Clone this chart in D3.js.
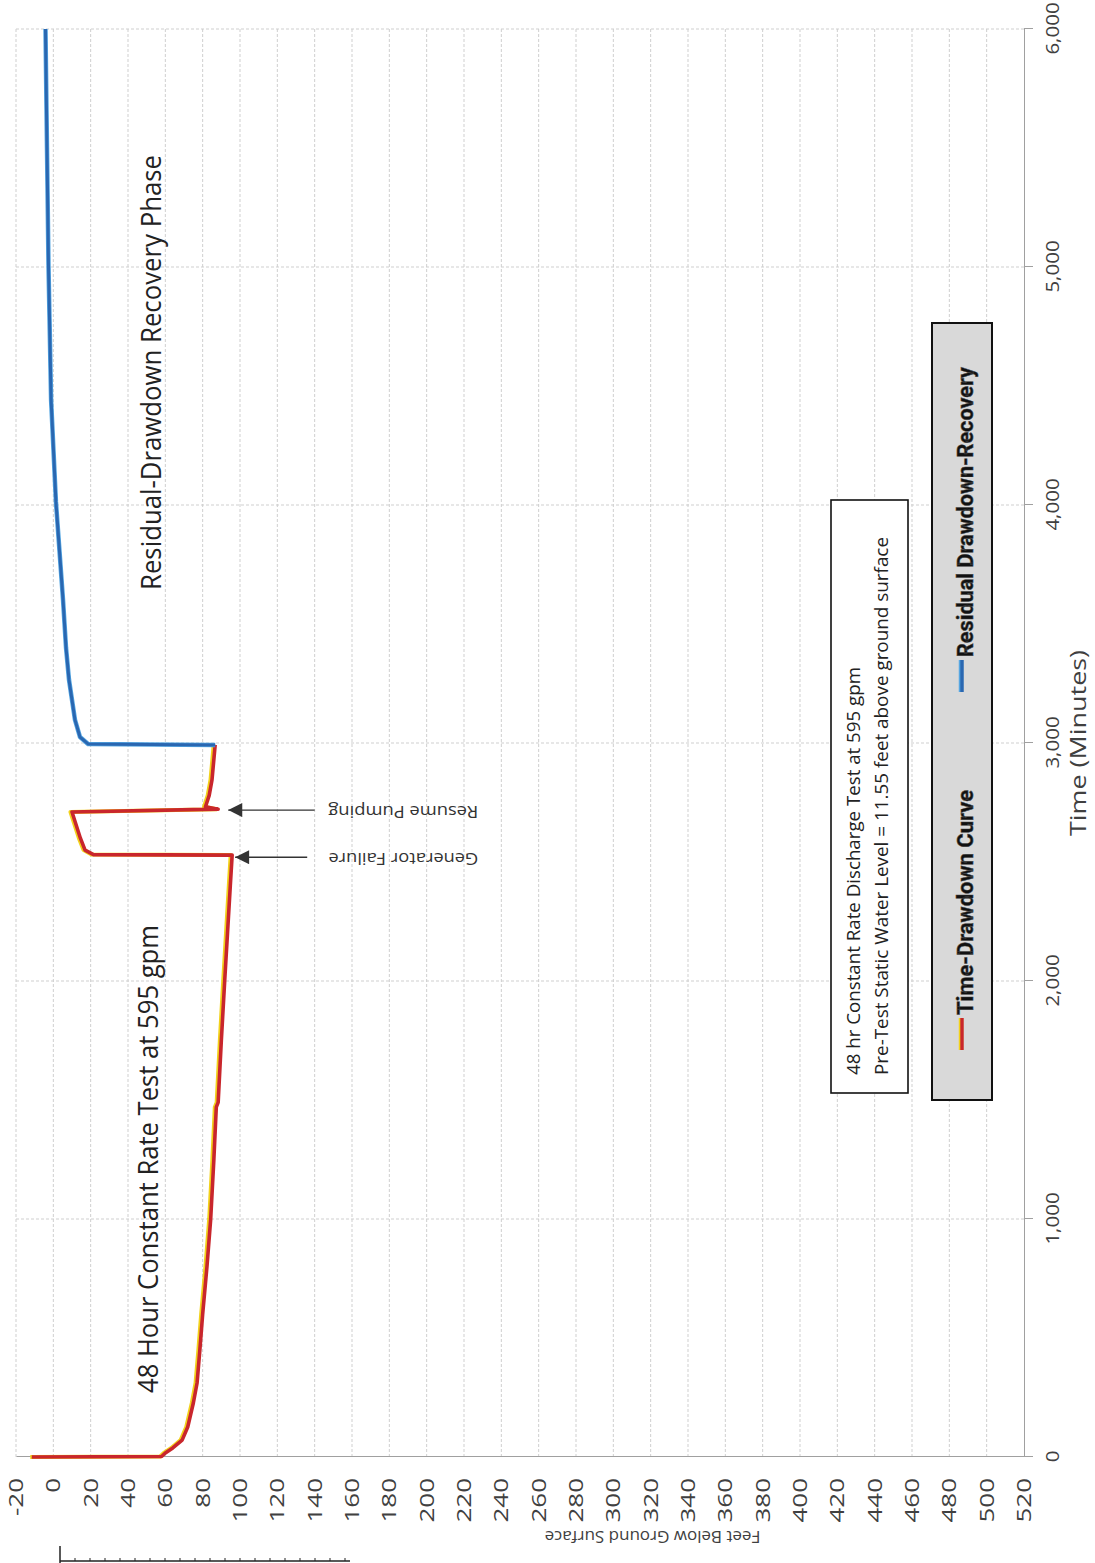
<!DOCTYPE html>
<html>
<head>
<meta charset="utf-8">
<script src="https://cdn.jsdelivr.net/npm/d3@7"></script>
<style>
  body { margin: 0; background: #fff; }
  svg { display: block; }
</style>
</head>
<body>
<svg id="chart" width="1095" height="1563"></svg>
<script>
// Axis ticks
const timeTicks = [0, 1000, 2000, 3000, 4000, 5000, 6000];
const depthTicks = [-20, 0, 20, 40, 60, 80, 100, 120, 140, 160, 180, 200, 220, 240, 260,
  280, 300, 320, 340, 360, 380, 400, 420, 440, 460, 480, 500, 520];

// Pumping phase: elapsed minutes and water level (feet below ground surface)
const drawdownMinutes = [0, 2, 17, 38, 71, 126, 227, 311, 450, 600, 800, 1000, 1250, 1470, 1490,
  1750, 2000, 2200, 2400, 2529, 2531, 2550, 2600, 2710, 2722, 2732, 2780, 2845, 2992];
const drawdownFeet = [-11.55, 58, 60, 64, 69, 72, 75, 77, 78.5, 80, 82.3, 84.3, 86, 87.3, 88.3,
  90, 91.8, 93.3, 94.8, 95.8, 21.5, 17, 14.5, 10, 88.3, 81.5, 83.5, 85, 86.7];

// Recovery phase after the pump was shut off
const recoveryMinutes = [2992, 2996, 3025, 3097, 3181, 3265, 3400, 3600, 4013, 4441, 5008, 5500, 6000];
const recoveryFeet = [86.7, 18.6, 14.3, 11.6, 10, 8.4, 6.8, 5.2, 1.4, -1.2, -2.6, -3.4, -4.2];

// Event callouts
const eventLabels = ["Generator Failure", "Resume Pumping"];
const eventMinutes = [2520, 2718];
const eventTipFeet = [97.4, 93.7];
const eventTailFeet = [136, 140];
const eventTextFeet = [227.7, 227.7];

const seriesNames = ["Time-Drawdown Curve", "Residual Drawdown-Recovery"];

const W = 1428, H = 1008;
const x = d3.scaleLinear().domain([0, 6000]).range([0, W]);
const y = d3.scaleLinear().domain([-20, 520]).range([0, H]);

const svg = d3.select("#chart");
const FONT = "'Open Sans', 'Noto Sans', sans-serif";

// The whole plot is laid out on its side: time runs up the page, depth runs across.
const g = svg.append("g").attr("transform", "translate(16,1457) rotate(-90)");

// Grid
const grid = g.append("g").attr("stroke", "#cfcfcf").attr("stroke-width", 1)
  .attr("stroke-dasharray", "3,2").attr("fill", "none");
grid.selectAll("line.t").data(timeTicks.slice(1)).join("line")
  .attr("x1", d => x(d)).attr("x2", d => x(d)).attr("y1", 0).attr("y2", H);
grid.selectAll("line.d").data(depthTicks.slice(0, -1)).join("line")
  .attr("x1", 0).attr("x2", W).attr("y1", d => y(d)).attr("y2", d => y(d));

// Time axis
const xAxis = g.append("g").attr("transform", `translate(0,${H})`)
  .call(d3.axisBottom(x).tickValues(timeTicks).tickSize(9).tickPadding(13)
    .tickFormat(d3.format(",")));
xAxis.select(".domain").attr("stroke", "#a0a0a0");
xAxis.selectAll(".tick line").attr("stroke", "#a0a0a0");
xAxis.selectAll(".tick text").attr("font-family", FONT).attr("font-size", 19).attr("fill", "#404040")
  .attr("transform", "scale(1.08,1)");

// Depth axis (labels drawn a little wide, as in the printed sheet)
const stretch = 1.3;
const yAxis = g.append("g")
  .call(d3.axisLeft(y).tickValues(depthTicks).tickSize(0).tickPadding(21)
    .tickFormat(d => String(d)));
yAxis.select(".domain").attr("stroke", "#a0a0a0");
yAxis.selectAll(".tick text").attr("font-family", FONT).attr("font-size", 20).attr("fill", "#404040")
  .attr("x", -21 / stretch).attr("transform", `scale(${stretch},1)`);

// Axis titles
g.append("text").attr("x", x(3000)).attr("y", H + 62).attr("text-anchor", "middle")
  .attr("font-family", FONT).attr("font-size", 22).attr("fill", "#404040")
  .attr("textLength", 186).attr("lengthAdjust", "spacingAndGlyphs")
  .text("Time (Minutes)");
g.append("text").attr("transform", `translate(-74,${y(321)}) rotate(-90)`)
  .attr("text-anchor", "middle").attr("font-family", FONT).attr("font-size", 17)
  .attr("fill", "#404040").text("Feet Below Ground Surface");

// Lines
const line = d3.line().x(d => x(d[0])).y(d => y(d[1]));
const drawdown = drawdownMinutes.map((t, i) => [t, drawdownFeet[i]]);
const recovery = recoveryMinutes.map((t, i) => [t, recoveryFeet[i]]);

g.append("path").datum(drawdown).attr("d", line).attr("fill", "none")
  .attr("stroke", "#f2d21b").attr("stroke-width", 4).attr("stroke-linejoin", "round")
  .attr("transform", "translate(0,-1.5)");
g.append("path").datum(drawdown).attr("d", line).attr("fill", "none")
  .attr("stroke", "#c9262c").attr("stroke-width", 3.6).attr("stroke-linejoin", "round");

g.append("path").datum(recovery).attr("d", line).attr("fill", "none")
  .attr("stroke", "#55a6e2").attr("stroke-width", 4.5).attr("stroke-linejoin", "round");
g.append("path").datum(recovery).attr("d", line).attr("fill", "none")
  .attr("stroke", "#2a67b1").attr("stroke-width", 3).attr("stroke-linejoin", "round");

// Phase captions
g.append("text").attr("x", 64).attr("y", 142).attr("font-family", FONT).attr("font-size", 28)
  .attr("fill", "#222").attr("textLength", 468).attr("lengthAdjust", "spacingAndGlyphs")
  .text("48 Hour Constant Rate Test at 595 gpm");
g.append("text").attr("x", 867).attr("y", 145).attr("font-family", FONT).attr("font-size", 27)
  .attr("fill", "#222").attr("textLength", 435).attr("lengthAdjust", "spacingAndGlyphs")
  .text("Residual-Drawdown Recovery Phase");

// Event arrows
svg.append("defs").append("marker").attr("id", "head").attr("viewBox", "0 0 10 10")
  .attr("refX", 10).attr("refY", 5).attr("markerWidth", 16).attr("markerHeight", 14)
  .attr("markerUnits", "userSpaceOnUse").attr("orient", "auto")
  .append("path").attr("d", "M0,0L10,5L0,10Z").attr("fill", "#333");
const ev = g.append("g");
eventLabels.forEach((lab, i) => {
  ev.append("line").attr("x1", x(eventMinutes[i])).attr("x2", x(eventMinutes[i]))
    .attr("y1", y(eventTailFeet[i])).attr("y2", y(eventTipFeet[i]))
    .attr("stroke", "#333").attr("stroke-width", 1.3).attr("marker-end", "url(#head)");
  ev.append("text")
    .attr("transform", `translate(${x(eventMinutes[i])},${y(eventTextFeet[i])}) rotate(-90)`)
    .attr("dominant-baseline", "middle").attr("font-family", FONT).attr("font-size", 17)
    .attr("fill", "#333").attr("textLength", 150).attr("lengthAdjust", "spacingAndGlyphs")
    .text(lab);
});

// Note box
const noteX0 = 364, noteX1 = 957, noteY0 = 815, noteY1 = 892;
g.append("rect").attr("x", noteX0).attr("y", noteY0).attr("width", noteX1 - noteX0)
  .attr("height", noteY1 - noteY0).attr("fill", "#fff").attr("stroke", "#111").attr("stroke-width", 1.6);
g.append("text").attr("x", 382).attr("y", 844).attr("font-family", FONT).attr("font-size", 18)
  .attr("fill", "#222").attr("textLength", 408).attr("lengthAdjust", "spacingAndGlyphs")
  .text("48 hr Constant Rate Discharge Test at 595 gpm");
g.append("text").attr("x", 382).attr("y", 872).attr("font-family", FONT).attr("font-size", 18)
  .attr("fill", "#222").attr("textLength", 538).attr("lengthAdjust", "spacingAndGlyphs")
  .text("Pre-Test Static Water Level = 11.55 feet above ground surface");

// Legend
const lg = g.append("g");
lg.append("rect").attr("x", 357).attr("y", 916).attr("width", 777).attr("height", 60)
  .attr("fill", "#d9d9d9").attr("stroke", "#111").attr("stroke-width", 2);
const legendColors = ["#c9262c", "#2a67b1"];
const legendEdge = ["#f2d21b", "#55a6e2"];
const legendX = [407, 765];
const legendLen = [225, 290];
seriesNames.forEach((name, i) => {
  lg.append("line").attr("x1", legendX[i]).attr("x2", legendX[i] + 32).attr("y1", 945).attr("y2", 945)
    .attr("stroke", legendEdge[i]).attr("stroke-width", 4.5);
  lg.append("line").attr("x1", legendX[i]).attr("x2", legendX[i] + 32).attr("y1", 946).attr("y2", 946)
    .attr("stroke", legendColors[i]).attr("stroke-width", 3.4);
  lg.append("text").attr("x", legendX[i] + 35).attr("y", 957)
    .attr("font-family", "'Liberation Sans Narrow', 'Roboto', sans-serif").attr("font-weight", "bold")
    .attr("font-size", 22).attr("fill", "#111").attr("stroke", "#444").attr("stroke-width", 0.5)
    .attr("textLength", legendLen[i]).attr("lengthAdjust", "spacingAndGlyphs").text(name);
});

// Page ruler fragment at the lower left
const ruler = svg.append("g").attr("stroke", "#222").attr("stroke-width", 1.5);
ruler.append("line").attr("x1", 60).attr("x2", 60).attr("y1", 1546).attr("y2", 1563);
ruler.append("line").attr("x1", 60).attr("x2", 350).attr("y1", 1561).attr("y2", 1561);
ruler.selectAll("line.tk").data(d3.range(75, 350, 15)).join("line")
  .attr("x1", d => d).attr("x2", d => d).attr("y1", 1558).attr("y2", 1561).attr("stroke-width", 1);
</script>
</body>
</html>
